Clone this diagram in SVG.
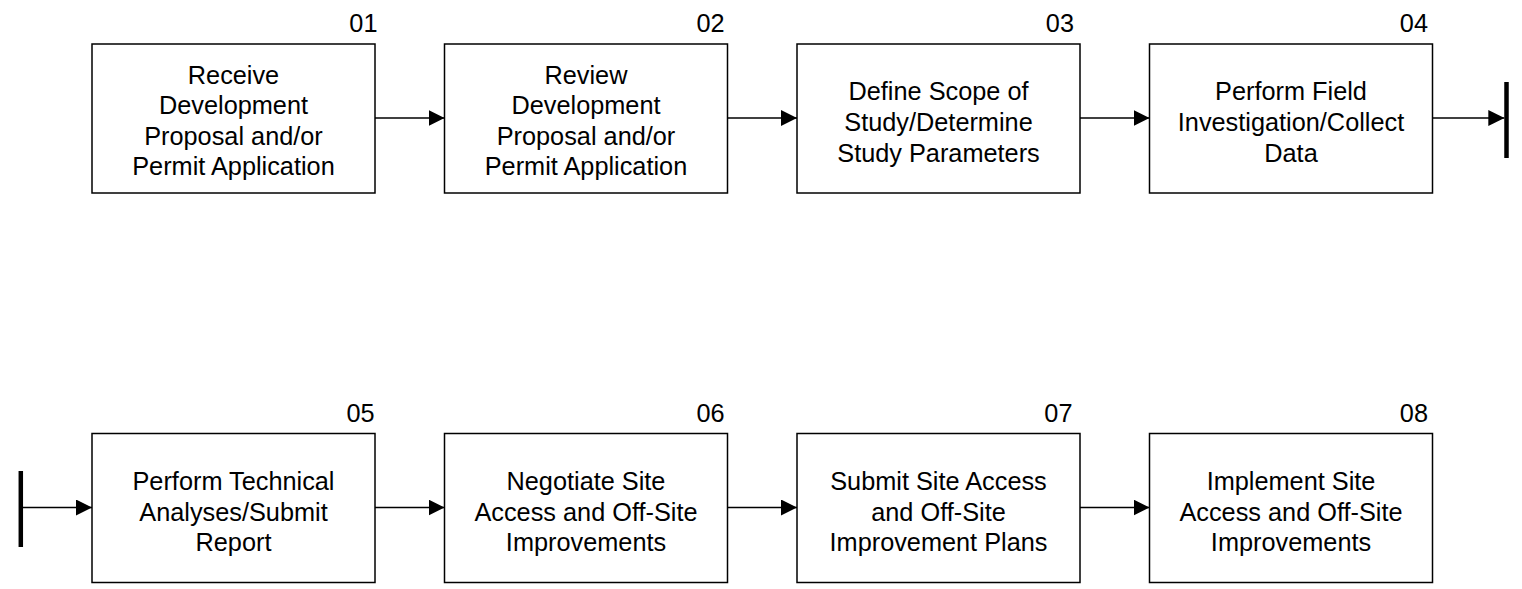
<svg xmlns="http://www.w3.org/2000/svg" width="1522" height="589" viewBox="0 0 1522 589">
<defs>
<style>
.box{fill:#fff;stroke:#000;stroke-width:1.5}
.lbl{font-family:"Liberation Sans",Arial,sans-serif;font-size:25.3px;fill:#000;text-anchor:middle}
.num{font-family:"Liberation Sans",Arial,sans-serif;font-size:25.3px;fill:#000;text-anchor:end}
.con{stroke:#000;stroke-width:1.5;fill:none}
.bar{stroke:#000;stroke-width:4.5;fill:none}
</style>
<marker id="arr" markerWidth="16" markerHeight="16" viewBox="0 0 16 16" refX="16" refY="8" markerUnits="userSpaceOnUse" orient="auto">
<path d="M0,0 L16,8 L0,16 Z" fill="#000"/>
</marker>
</defs>
<rect width="1522" height="589" fill="#fff"/>
<g id="n01">
<rect class="box" x="92" y="44" width="283" height="149"/>
<text class="num" x="377.5" y="31.7">01</text>
<text class="lbl" x="233.5" y="83.5">Receive</text>
<text class="lbl" x="233.5" y="114">Development</text>
<text class="lbl" x="233.5" y="144.7">Proposal and/or</text>
<text class="lbl" x="233.5" y="175.4">Permit Application</text>
</g>
<g id="n02">
<rect class="box" x="444.5" y="44" width="283" height="149"/>
<text class="num" x="724.6" y="31.7">02</text>
<text class="lbl" x="586" y="83.5">Review</text>
<text class="lbl" x="586" y="114">Development</text>
<text class="lbl" x="586" y="144.7">Proposal and/or</text>
<text class="lbl" x="586" y="175.4">Permit Application</text>
</g>
<g id="n03">
<rect class="box" x="797" y="44" width="283" height="149"/>
<text class="num" x="1074" y="31.7">03</text>
<text class="lbl" x="938.5" y="100.3">Define Scope of</text>
<text class="lbl" x="938.5" y="131">Study/Determine</text>
<text class="lbl" x="938.5" y="161.7">Study Parameters</text>
</g>
<g id="n04">
<rect class="box" x="1149.5" y="44" width="283" height="149"/>
<text class="num" x="1428" y="31.7">04</text>
<text class="lbl" x="1291" y="100.3">Perform Field</text>
<text class="lbl" x="1291" y="131">Investigation/Collect</text>
<text class="lbl" x="1291" y="161.7">Data</text>
</g>
<g id="n05">
<rect class="box" x="92" y="433.5" width="283" height="149"/>
<text class="num" x="374.6" y="421.7">05</text>
<text class="lbl" x="233.5" y="490">Perform Technical</text>
<text class="lbl" x="233.5" y="520.7">Analyses/Submit</text>
<text class="lbl" x="233.5" y="551.4">Report</text>
</g>
<g id="n06">
<rect class="box" x="444.5" y="433.5" width="283" height="149"/>
<text class="num" x="724.6" y="421.7">06</text>
<text class="lbl" x="586" y="490">Negotiate Site</text>
<text class="lbl" x="586" y="520.7">Access and Off-Site</text>
<text class="lbl" x="586" y="551.4">Improvements</text>
</g>
<g id="n07">
<rect class="box" x="797" y="433.5" width="283" height="149"/>
<text class="num" x="1072.5" y="421.7">07</text>
<text class="lbl" x="938.5" y="490">Submit Site Access</text>
<text class="lbl" x="938.5" y="520.7">and Off-Site</text>
<text class="lbl" x="938.5" y="551.4">Improvement Plans</text>
</g>
<g id="n08">
<rect class="box" x="1149.5" y="433.5" width="283" height="149"/>
<text class="num" x="1428" y="421.7">08</text>
<text class="lbl" x="1291" y="490">Implement Site</text>
<text class="lbl" x="1291" y="520.7">Access and Off-Site</text>
<text class="lbl" x="1291" y="551.4">Improvements</text>
</g>
<g id="connectors">
<line class="con" x1="375" y1="118" x2="444.5" y2="118" marker-end="url(#arr)"/>
<line class="con" x1="727.5" y1="118" x2="797" y2="118" marker-end="url(#arr)"/>
<line class="con" x1="1080" y1="118" x2="1149.5" y2="118" marker-end="url(#arr)"/>
<line class="con" x1="1432.5" y1="118" x2="1504.3" y2="118" marker-end="url(#arr)"/>
<line class="bar" x1="1506.5" y1="82" x2="1506.5" y2="158"/>
<line class="bar" x1="20.8" y1="471" x2="20.8" y2="547"/>
<line class="con" x1="21" y1="507.5" x2="92" y2="507.5" marker-end="url(#arr)"/>
<line class="con" x1="375" y1="507.5" x2="444.5" y2="507.5" marker-end="url(#arr)"/>
<line class="con" x1="727.5" y1="507.5" x2="797" y2="507.5" marker-end="url(#arr)"/>
<line class="con" x1="1080" y1="507.5" x2="1149.5" y2="507.5" marker-end="url(#arr)"/>
</g>
</svg>
